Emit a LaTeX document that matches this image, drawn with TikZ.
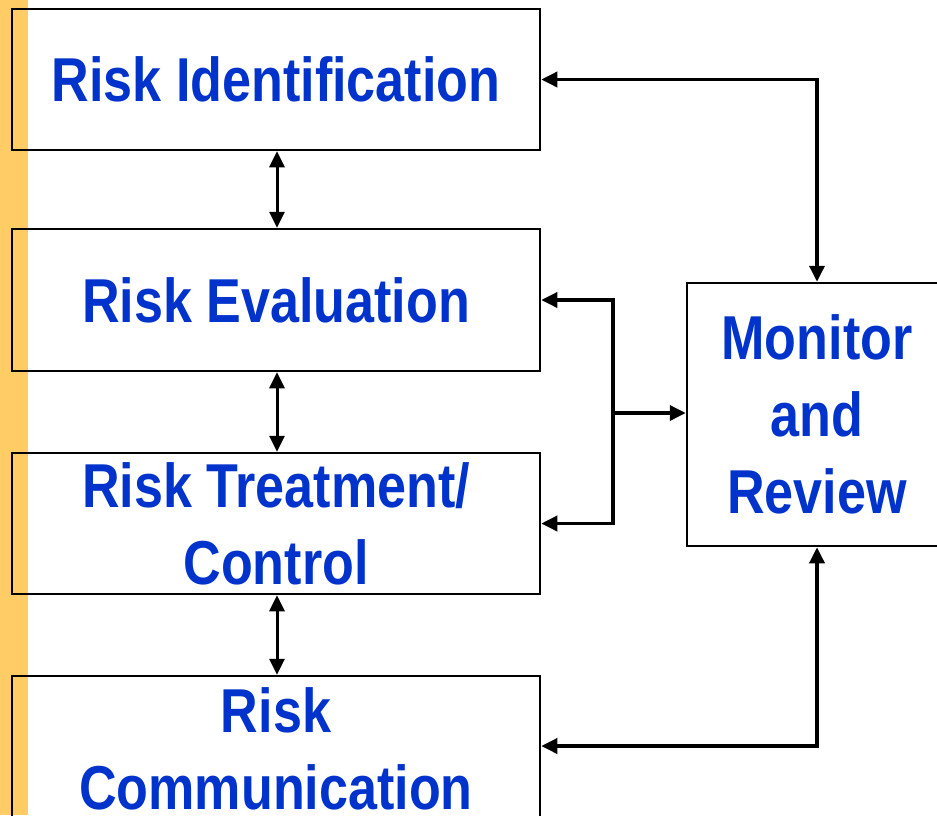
\documentclass[tikz,border=0pt]{standalone}
\usepackage{fontspec}
\newfontfamily\boxfont[FakeStretch=0.84]{Liberation Sans}
\usetikzlibrary{arrows.meta}
\definecolor{stripcol}{HTML}{FFCC66}
\definecolor{textblue}{HTML}{0033CC}
\tikzset{
  box/.style={draw=black, line width=2.5pt, rectangle, inner sep=0pt,
    font=\boxfont\bfseries\fontsize{62}{77}\selectfont, text=textblue, align=center},
  conn/.style={line width=3.5pt, {Triangle[length=16pt,width=15pt]}-{Triangle[length=16pt,width=15pt]}},
  connone/.style={line width=3.5pt, -{Triangle[length=16pt,width=15pt]}},
}
\begin{document}
\begin{tikzpicture}[x=1pt,y=-1pt]
\useasboundingbox (0,0) rectangle (937,815);
\clip (0,0) rectangle (937,815);
\fill[white] (0,0) rectangle (937,815);
\fill[stripcol] (0,0) rectangle (28,815);
\node[box, minimum width=528pt, minimum height=141pt] (b1) at (276,79.5) {Risk Identification};
\node[box, minimum width=528pt, minimum height=142pt] (b2) at (276,300) {Risk Evaluation};
\node[box, minimum width=528pt, minimum height=141pt] (b3) at (276,523.5) {Risk Treatment/\\Control};
\node[box, minimum width=528pt, minimum height=146pt] (b4) at (276,749) {Risk\\Communication};
\node[box, minimum width=260pt, minimum height=263pt] (mon) at (817,414.5) {Monitor\\and\\Review};
\coordinate (j) at (613,413);
\draw[conn, line width=3pt] ([xshift=1pt]b1.south) -- ([xshift=1pt]b2.north);
\draw[conn, line width=3pt] ([xshift=1pt]b2.south) -- ([xshift=1pt]b3.north);
\draw[conn, line width=3pt] ([xshift=1pt]b3.south) -- ([xshift=1pt]b4.north);
\draw[conn] (b1.east) -| (mon.north);
\draw[conn] (b2.east) -| (j) |- (b3.east);
\draw[connone] (j) -- (j -| mon.west);
\draw[conn] (mon.south) |- ([yshift=3pt]b4.east);
\end{tikzpicture}
\end{document}
